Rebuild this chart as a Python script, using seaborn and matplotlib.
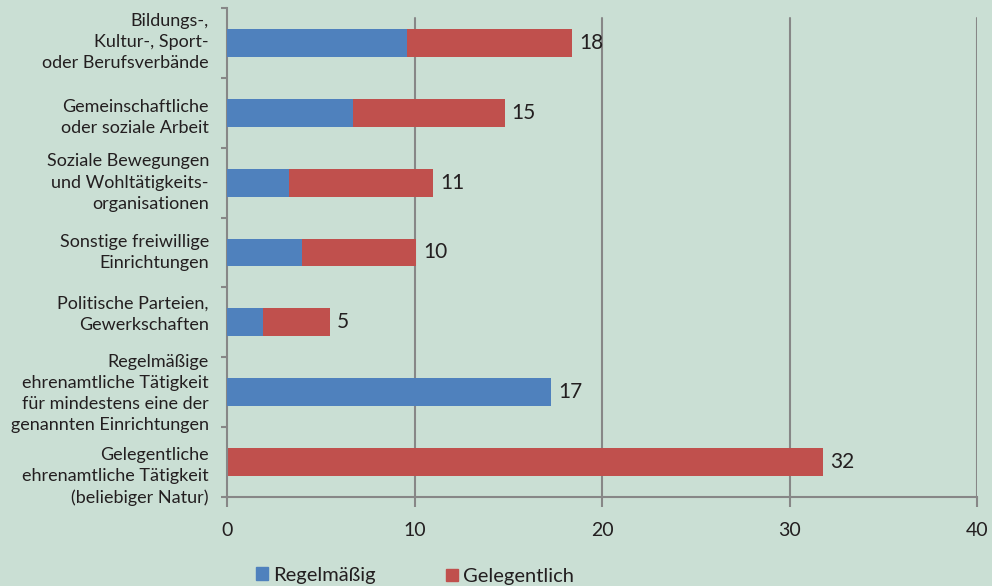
import matplotlib
matplotlib.use("Agg")
import matplotlib.pyplot as plt
import matplotlib.transforms as mtransforms
import seaborn as sns
import pandas as pd
import numpy as np
from matplotlib.patches import Patch

categories = [
    "Bildungs-,\nKultur-, Sport-\noder Berufsverbände",
    "Gemeinschaftliche\noder soziale Arbeit",
    "Soziale Bewegungen\nund Wohltätigkeits-\norganisationen",
    "Sonstige freiwillige\nEinrichtungen",
    "Politische Parteien,\nGewerkschaften",
    "Regelmäßige\nehrenamtliche Tätigkeit\nfür mindestens eine der\ngenannten Einrichtungen",
    "Gelegentliche\nehrenamtliche Tätigkeit\n(beliebiger Natur)",
]
regelmaessig = [9.6, 6.7, 3.3, 4.0, 1.9, 17.3, 0.0]
gelegentlich = [8.8, 8.1, 7.7, 6.1, 3.6, 0.0, 31.8]
value_labels = [18, 15, 11, 10, 5, 17, 32]
x_ticks = [0, 10, 20, 30, 40]
series_names = ["Regelmäßig", "Gelegentlich"]

# layout: vertical shift of each category label (points, negative = down)
label_shift_pt = [0.5, -3.5, 0, 0, 5.5, -1, -10.5]

bg = "#cadfd4"
blue = "#4f81bd"
red = "#c0504d"
grid_c = "#878787"
text_c = "#231f20"

sns.set_theme(style="white")
plt.rcParams['font.family'] = ['Lato', 'DejaVu Sans']
plt.rcParams['text.color'] = text_c

fig = plt.figure(figsize=(9.92, 5.86), dpi=100, facecolor=bg)
ax = fig.add_axes([227/992, 1 - 497/586, 750/992, 489/586])
ax.set_facecolor(bg)

df = pd.DataFrame({
    "Kategorie": categories,
    series_names[0]: regelmaessig,
    series_names[1]: gelegentlich,
})
df["Gesamt"] = df[series_names[0]] + df[series_names[1]]

sns.barplot(data=df, x="Gesamt", y="Kategorie", color=red, width=0.4,
            saturation=1, linewidth=0, orient="h", ax=ax, zorder=2)
sns.barplot(data=df, x=series_names[0], y="Kategorie", color=blue, width=0.4,
            saturation=1, linewidth=0, orient="h", ax=ax, zorder=3)

for i, (tot, lab) in enumerate(zip(df["Gesamt"], value_labels)):
    ax.annotate(str(lab), xy=(tot, i), xytext=(5, 0), textcoords="offset points",
                va="center", ha="left", fontsize=15, color=text_c)

ax.set_xlim(0, 40)
ax.set_ylim(6.5, -0.5)
for t in x_ticks[1:]:
    ax.axvline(t, ymax=0.98, color=grid_c, lw=1.5, zorder=0.5)

for s in ["top", "right"]:
    ax.spines[s].set_visible(False)
for s in ["left", "bottom"]:
    ax.spines[s].set_color(grid_c)
    ax.spines[s].set_linewidth(1.5)

ax.set_xticks(x_ticks)
ax.set_xticklabels([str(t) for t in x_ticks])
ax.tick_params(axis="x", length=7.5, width=1.5, color=grid_c, pad=10.5,
               labelsize=14, labelcolor=text_c, direction="out", bottom=True)
ax.set_yticks(range(len(categories)))
ax.set_yticklabels(categories, fontsize=13, color=text_c, linespacing=1.4,
                   va="center")
ax.tick_params(axis="y", which="major", length=0, pad=13)
ax.set_yticks(np.arange(-0.5, len(categories) + 0.5, 1), minor=True)
ax.tick_params(axis="y", which="minor", length=4.5, width=1.5, color=grid_c,
               direction="out", left=True)
ax.set_xlabel("")
ax.set_ylabel("")

for lbl, dy in zip(ax.get_yticklabels(), label_shift_pt):
    lbl.set_transform(lbl.get_transform() +
                      mtransforms.ScaledTranslation(0, dy / 72, fig.dpi_scale_trans))

fig.legend(handles=[Patch(color=blue, label=series_names[0])],
           loc="center left", bbox_to_anchor=(256/992, 1 - 575/586),
           frameon=False, fontsize=14.5, handlelength=0.6, handleheight=0.6,
           handletextpad=0.25, borderpad=0, borderaxespad=0)
fig.legend(handles=[Patch(color=red, label=series_names[1])],
           loc="center left", bbox_to_anchor=(446/992, 1 - 576.5/586),
           frameon=False, fontsize=14.5, handlelength=0.6, handleheight=0.6,
           handletextpad=0.25, borderpad=0, borderaxespad=0)

fig.savefig("out.png", dpi=100, facecolor=bg)
